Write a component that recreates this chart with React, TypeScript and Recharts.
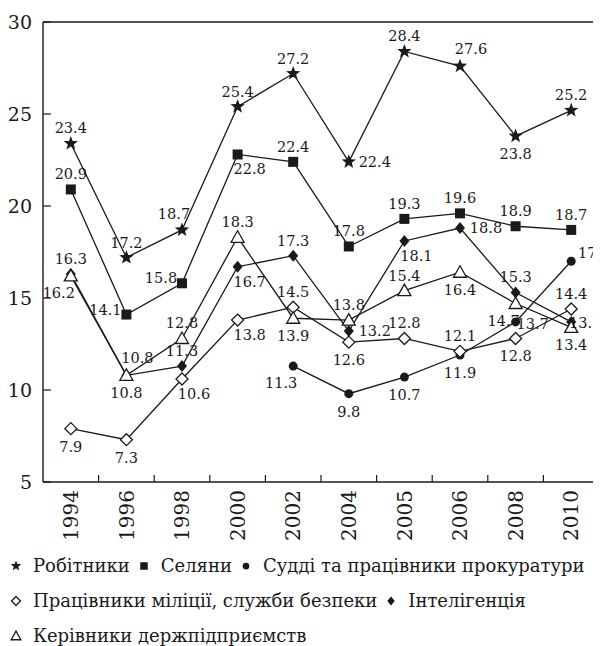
import React from 'react';
import { LineChart, Line, XAxis, YAxis } from 'recharts';

const years = ['1994', '1996', '1998', '2000', '2002', '2004', '2005', '2006', '2008', '2010'];
const workers = [23.4, 17.2, 18.7, 25.4, 27.2, 22.4, 28.4, 27.6, 23.8, 25.2];
const peasants = [20.9, 14.1, 15.8, 22.8, 22.4, 17.8, 19.3, 19.6, 18.9, 18.7];
const judges = [null, null, null, null, 11.3, 9.8, 10.7, 11.9, 13.7, 17];
const police = [7.9, 7.3, 10.6, 13.8, 14.5, 12.6, 12.8, 12.1, 12.8, 14.4];
const intelligentsia = [16.3, 10.8, 11.3, 16.7, 17.3, 13.2, 18.1, 18.8, 15.3, 13.7];
const managers = [16.2, 10.8, 12.8, 18.3, 13.9, 13.8, 15.4, 16.4, 14.7, 13.4];
const yTicks = [5, 10, 15, 20, 25, 30];

// where each value label sits relative to its point
const workersPos = ['t', 't', 'tl', 't', 't', 'r', 't', 'tr', 'b', 't'];
const peasantsPos = ['t', 'l', 'l', 'br', 't', 't', 't', 't', 't', 't'];
const judgesPos = ['', '', '', '', 'bl', 'b', 'b', 'b', 'rn', 'ru'];
const policePos = ['b', 'b', 'br', 'br', 't', 'b', 't', 't', 'b', 't'];
const intelPos = ['t', 'tr', 't', 'br', 't', 'r', 'br', 'r', 't', 're'];
const managersPos = ['bl', 'b', 't', 't', 'b', 't', 't', 'b', 'bl', 'b'];

const INK = '#1a1a1a';
const FONT = '"DejaVu Serif", serif';

// chart frame
const W = 593;
const H = 540;
const M = { top: 14, right: 2, bottom: 0, left: 0 };
const Y_W = 35;
const X_H = 66;
const PLOT_X = M.left + Y_W;
const PLOT_Y = M.top;
const PLOT_W = W - M.left - M.right - Y_W;
const PLOT_H = H - M.top - M.bottom - X_H;

const offsets: Record<string, [number, number]> = {
  t: [0, -15],
  b: [0, 18],
  l: [-21, -5],
  r: [26, 0],
  rn: [17, 2],
  re: [14, 1],
  ru: [16, -8],
  tl: [-8, -16],
  tr: [11, -17],
  bl: [-12, 17],
  br: [12, 15],
};

const series = [
  { key: 'workers', name: 'Робітники', values: workers, shape: 'star', pos: workersPos },
  { key: 'peasants', name: 'Селяни', values: peasants, shape: 'square', pos: peasantsPos },
  { key: 'judges', name: 'Судді та працівники прокуратури', values: judges, shape: 'circle', pos: judgesPos },
  { key: 'police', name: 'Працівники міліції, служби безпеки', values: police, shape: 'diamondOpen', pos: policePos },
  { key: 'intel', name: 'Інтелігенція', values: intelligentsia, shape: 'diamond', pos: intelPos },
  { key: 'managers', name: 'Керівники держпідприємств', values: managers, shape: 'triangleOpen', pos: managersPos },
];

const legendRows = [[0, 1, 2], [3, 4], [5]];

const data = years.map((year, i) => {
  const row: any = { year };
  series.forEach((s) => {
    row[s.key] = s.values[i];
  });
  return row;
});

function starPoints(cx: number, cy: number, R: number) {
  const pts: string[] = [];
  for (let k = 0; k < 10; k++) {
    const r = k % 2 === 0 ? R : R * 0.42;
    const a = -Math.PI / 2 + (k * Math.PI) / 5;
    pts.push(`${cx + r * Math.cos(a)},${cy + r * Math.sin(a)}`);
  }
  return pts.join(' ');
}

function Marker({ shape, cx, cy, s = 1 }: { shape: string; cx: number; cy: number; s?: number }) {
  switch (shape) {
    case 'star':
      return <polygon points={starPoints(cx, cy, 7.5 * s)} fill={INK} />;
    case 'square':
      return <rect x={cx - 5 * s} y={cy - 5 * s} width={10 * s} height={10 * s} fill={INK} />;
    case 'circle':
      return <circle cx={cx} cy={cy} r={4.5 * s} fill={INK} />;
    case 'diamond':
      return (
        <polygon
          points={`${cx},${cy - 6 * s} ${cx + 5 * s},${cy} ${cx},${cy + 6 * s} ${cx - 5 * s},${cy}`}
          fill={INK}
        />
      );
    case 'diamondOpen':
      return (
        <polygon
          points={`${cx},${cy - 6 * s} ${cx + 6 * s},${cy} ${cx},${cy + 6 * s} ${cx - 6 * s},${cy}`}
          fill="#fff"
          stroke={INK}
          strokeWidth={1.3}
        />
      );
    default:
      return (
        <polygon
          points={`${cx},${cy - 6.5 * s} ${cx + 6.5 * s},${cy + 5 * s} ${cx - 6.5 * s},${cy + 5 * s}`}
          fill="#fff"
          stroke={INK}
          strokeWidth={1.3}
        />
      );
  }
}

function XTick(props: any) {
  const { x, y, payload, index, visibleTicksCount } = props;
  const half = payload.offset ?? 0;
  const ty = y + 8;
  return (
    <g>
      {index < visibleTicksCount - 1 && (
        <line x1={x + half} x2={x + half} y1={y} y2={y - 7} stroke={INK} strokeWidth={1.2} />
      )}
      <text
        x={x}
        y={ty}
        transform={`rotate(-90, ${x}, ${ty})`}
        textAnchor="end"
        dy="0.36em"
        fontSize={20}
        fontFamily={FONT}
        fill={INK}
      >
        {payload.value}
      </text>
    </g>
  );
}

function YTick(props: any) {
  const { x, y, payload } = props;
  return (
    <g>
      <line x1={x} x2={x + 8} y1={y} y2={y} stroke={INK} strokeWidth={1.2} />
      <text
        x={x - 11}
        y={y}
        textAnchor="end"
        dominantBaseline="central"
        fontSize={19}
        fontFamily={FONT}
        fill={INK}
      >
        {payload.value}
      </text>
    </g>
  );
}

export default function App() {
  return (
    <div style={{ width: W, fontFamily: FONT, color: INK }}>
      <div style={{ position: 'relative', width: W, height: H }}>
        <LineChart width={W} height={H} data={data} margin={M}>
          <XAxis
            dataKey="year"
            scale="band"
            interval={0}
            height={X_H}
            tickLine={false}
            tickSize={0}
            tickMargin={0}
            tick={<XTick />}
            axisLine={{ stroke: INK, strokeWidth: 1.4 }}
          />
          <YAxis
            type="number"
            domain={[5, 30]}
            ticks={yTicks}
            width={Y_W}
            tickLine={false}
            tickSize={0}
            tickMargin={0}
            tick={<YTick />}
            axisLine={{ stroke: INK, strokeWidth: 1.4 }}
          />
          {series.map((s) => (
            <Line
              key={s.key}
              dataKey={s.key}
              name={s.name}
              type="linear"
              stroke={INK}
              strokeWidth={1.3}
              isAnimationActive={false}
              dot={(p: any) =>
                p.value == null || p.cx == null ? (
                  <g key={`${s.key}-d${p.index}`} />
                ) : (
                  <g key={`${s.key}-d${p.index}`}>
                    <Marker shape={s.shape} cx={p.cx} cy={p.cy} />
                  </g>
                )
              }
              activeDot={false}
              label={(p: any) => {
                if (p.value == null || p.x == null) return <g key={`${s.key}-l${p.index}`} />;
                const [dx, dy] = offsets[s.pos[p.index]] || offsets.t;
                return (
                  <text
                    key={`${s.key}-l${p.index}`}
                    x={p.x + dx}
                    y={p.y + dy}
                    textAnchor="middle"
                    dominantBaseline="central"
                    fontSize={14.5}
                    fontFamily={FONT}
                    fill={INK}
                  >
                    {p.value}
                  </text>
                );
              }}
            />
          ))}
        </LineChart>
        {/* top and right edges of the plot frame */}
        <svg
          width={W}
          height={H}
          style={{ position: 'absolute', left: 0, top: 0, zIndex: 5, pointerEvents: 'none' }}
        >
          <polyline
            points={`${PLOT_X},${PLOT_Y} ${PLOT_X + PLOT_W - 0.8},${PLOT_Y} ${PLOT_X + PLOT_W - 0.8},${PLOT_Y + PLOT_H}`}
            fill="none"
            stroke={INK}
            strokeWidth={1.5}
          />
        </svg>
      </div>
      <div style={{ fontSize: 18, lineHeight: '35px' }}>
        {legendRows.map((row, ri) => (
          <div key={ri} style={{ display: 'flex', alignItems: 'center', whiteSpace: 'nowrap' }}>
            {row.map((idx) => {
              const s = series[idx];
              return (
                <span key={s.key} style={{ display: 'inline-flex', alignItems: 'center', marginRight: 6 }}>
                  <svg width={16} height={14} style={{ marginRight: 9 }}>
                    <Marker shape={s.shape} cx={8} cy={7} s={0.75} />
                  </svg>
                  <span>{s.name}</span>
                </span>
              );
            })}
          </div>
        ))}
      </div>
    </div>
  );
}
